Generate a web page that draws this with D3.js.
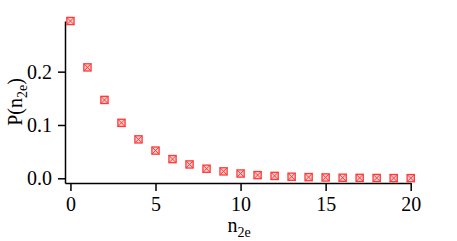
<!DOCTYPE html>
<html>
<head>
<meta charset="utf-8">
<script src="https://cdn.jsdelivr.net/npm/d3@7"></script>
<style>
  body { margin: 0; background: #fff; }
  text { font-family: "Liberation Serif", "Times New Roman", serif; fill: #000; }
</style>
</head>
<body>
<script>
// values
var n2e = [0, 1, 2, 3, 4, 5, 6, 7, 8, 9, 10, 11, 12, 13, 14, 15, 16, 17, 18, 19, 20];
var prob = [0.295, 0.208, 0.147, 0.104, 0.073, 0.052, 0.036, 0.026, 0.018, 0.013, 0.009,
            0.006, 0.0045, 0.003, 0.0022, 0.0016, 0.0011, 0.0008, 0.0006, 0.0004, 0.0003];
var xTicks = [0, 5, 10, 15, 20];
var yTicks = [0, 0.1, 0.2];

var W = 457, H = 241;
var svg = d3.select("body").append("svg")
  .attr("width", W)
  .attr("height", H);

var x = d3.scaleLinear().domain([-0.32, 20]).range([65, 410.7]);
var y = d3.scaleLinear().domain([-0.0088, 0.295]).range([183, 21]);

// x axis
var xAxis = svg.append("g")
  .attr("transform", "translate(0," + y.range()[0] + ")")
  .call(d3.axisBottom(x).tickValues(xTicks).tickFormat(d3.format("d"))
    .tickSizeOuter(0).tickSizeInner(8).tickPadding(6));

// y axis
var yAxis = svg.append("g")
  .attr("transform", "translate(" + x.range()[0] + ",0)")
  .call(d3.axisLeft(y).tickValues(yTicks).tickFormat(d3.format(".1f"))
    .tickSizeOuter(0).tickSizeInner(7).tickPadding(6));

[xAxis, yAxis].forEach(function(a) {
  a.selectAll("path.domain").attr("stroke", "#000").attr("stroke-width", 1.5);
  a.selectAll(".tick line").attr("stroke", "#000").attr("stroke-width", 1.5);
  a.selectAll(".tick text")
    .attr("font-family", "Liberation Serif, serif")
    .attr("font-size", 20)
    .attr("fill", "#000");
});

// axis titles
var xt = svg.append("text")
  .attr("x", 239)
  .attr("y", 232)
  .attr("text-anchor", "middle")
  .attr("font-size", 20);
xt.append("tspan").text("n");
xt.append("tspan").attr("font-size", 14).attr("dy", 5).text("2e");

var yt = svg.append("text")
  .attr("transform", "translate(22,102) rotate(-90)")
  .attr("text-anchor", "middle")
  .attr("font-size", 20);
yt.append("tspan").text("P(n");
yt.append("tspan").attr("font-size", 14).attr("dy", 5).text("2e");
yt.append("tspan").attr("dy", -5).text(")");

// markers: square with a cross
var s = 3.6;
var pts = svg.append("g").selectAll("g.pt")
  .data(n2e.map(function(d, i) { return {n: d, p: prob[i]}; }))
  .enter().append("g")
  .attr("class", "pt")
  .attr("transform", function(d) { return "translate(" + x(d.n) + "," + y(d.p) + ")"; });

pts.append("rect")
  .attr("x", -s).attr("y", -s)
  .attr("width", 2 * s).attr("height", 2 * s)
  .attr("fill", "#ffd0d0")
  .attr("stroke", "#ff3838")
  .attr("stroke-width", 1.3);

pts.append("path")
  .attr("d", "M" + (-s) + "," + (-s) + "L" + s + "," + s + "M" + s + "," + (-s) + "L" + (-s) + "," + s)
  .attr("stroke", "#ff3838")
  .attr("stroke-width", 1);
</script>
</body>
</html>
